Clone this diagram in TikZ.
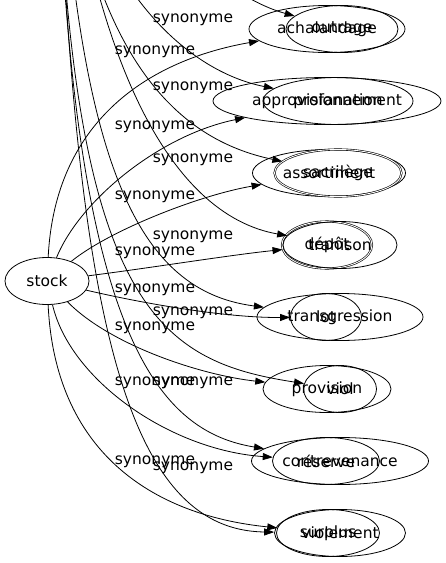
\documentclass[tikz,border=0pt]{standalone}
\usepackage{fontspec}
\setmainfont{DejaVu Sans}
\usetikzlibrary{arrows.meta,shapes.geometric}
\begin{document}
\begin{tikzpicture}[x=1pt,y=-1pt,
    syn/.style={draw,ellipse,minimum height=47pt,inner sep=0pt,line width=0.8pt,
      font=\fontsize{15.5}{18}\selectfont},
    twice/.style={double,double distance=0.9pt,line width=0.6pt},
    rel/.style={-{Triangle[length=10pt,width=7pt]},line width=0.8pt},
    lab/.style={inner sep=0pt,font=\fontsize{15.5}{18}\selectfont}]
      \useasboundingbox (0,0) rectangle (446,563);
      \clip (0,0) rectangle (446,563);
      \node[syn,minimum width=84pt] (stock) at (47,281) {stock};
      \coordinate (violation) at (55,-260);
      % stock side
      \node[syn,minimum width=156pt] (achalandage) at (327,29) {achalandage};
      \node[syn,minimum width=228pt] (approvisionnement) at (327,101) {approvisionnement};
      \node[syn,minimum width=153pt] (assortiment) at (329,173) {assortiment};
      \node[syn,twice,minimum width=90pt] (depot) at (327,245) {dépôt};
      \node[syn,minimum width=71pt] (lot) at (326,317) {lot};
      \node[syn,minimum width=128pt] (provision) at (327,389) {provision};
      \node[syn,minimum width=107pt] (reserve) at (326,461) {réserve};
      \node[syn,minimum width=103pt] (surplus) at (328,533) {surplus};
      % violation side
      \node[syn,minimum width=112pt] (outrage) at (342,29) {outrage};
      \node[syn,minimum width=150pt] (profanation) at (338,101) {profanation};
      \node[syn,twice,minimum width=127pt] (sacrilege) at (338,173) {sacrilège};
      \node[syn,minimum width=114pt] (trahison) at (340,245) {trahison};
      \node[syn,minimum width=166pt] (transgression) at (340,317) {transgression};
      \node[syn,minimum width=73pt] (viol) at (340,389) {viol};
      \node[syn,minimum width=177pt] (contrevenance) at (340,461) {contrevenance};
      \node[syn,minimum width=131pt] (violement) at (340,533) {violement};
      % edges from stock
      \draw[rel] (stock) .. controls (55,120) and (150,60) .. (achalandage);
      \draw[rel] (stock) .. controls (80,200) and (160,135) .. (approvisionnement);
      \draw[rel] (stock) .. controls (110,230) and (200,195) .. (assortiment);
      \draw[rel] (stock) .. controls (150,268) and (230,255) .. (depot);
      \draw[rel] (stock) .. controls (150,305) and (230,318) .. (lot);
      \draw[rel] (stock) .. controls (110,345) and (200,375) .. (provision);
      \draw[rel] (stock) .. controls (70,380) and (170,450) .. (reserve);
      \draw[rel] (stock) .. controls (55,450) and (150,515) .. (surplus);
      % edges from above
      \draw[rel] (violation) .. controls (70,-150) and (200,-10) .. (outrage);
      \draw[rel] (violation) .. controls (70,-30) and (180,70) .. (profanation);
      \draw[rel] (violation) .. controls (75,60) and (180,140) .. (sacrilege);
      \draw[rel] (violation) .. controls (85,60) and (170,215) .. (trahison);
      \draw[rel] (violation) .. controls (72,150) and (130,290) .. (transgression);
      \draw[rel] (violation) .. controls (62,300) and (150,360) .. (viol);
      \draw[rel] (violation) .. controls (62,320) and (150,430) .. (contrevenance);
      \draw[rel] (violation) .. controls (70,300) and (120,530) .. (violement);
      % labels
      \node[lab] (ls1) at (155,52) {synonyme};
      \node[lab] (ls2) at (155,127) {synonyme};
      \node[lab] (ls3) at (155,197) {synonyme};
      \node[lab] (ls4) at (155,253) {synonyme};
      \node[lab] (ls5) at (155,290) {synonyme};
      \node[lab] (ls6) at (155,328) {synonyme};
      \node[lab] (ls7) at (155,383) {synonyme};
      \node[lab] (ls8) at (155,462) {synonyme};
      \node[lab] (lv1) at (193,20) {synonyme};
      \node[lab] (lv2) at (193,88) {synonyme};
      \node[lab] (lv3) at (193,160) {synonyme};
      \node[lab] (lv4) at (193,237) {synonyme};
      \node[lab] (lv5) at (193,313) {synonyme};
      \node[lab] (lv6) at (193,383) {synonyme};
      \node[lab] (lv7) at (193,468) {synonyme};
    \end{tikzpicture}
\end{document}
